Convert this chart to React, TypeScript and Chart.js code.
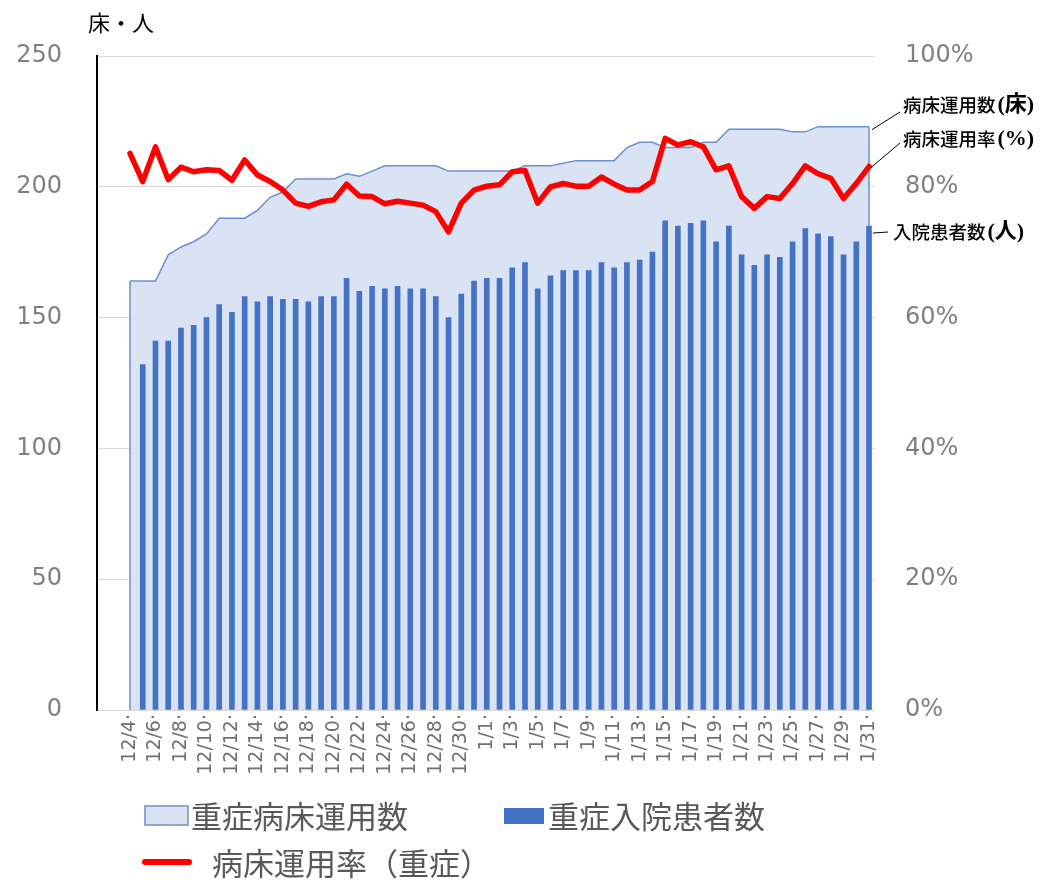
import React, { useEffect, useRef } from 'react';
import { Chart, registerables } from 'chart.js';

Chart.register(...registerables);

// ---- data ----
const categories = [
  '12/4', '12/5', '12/6', '12/7', '12/8', '12/9', '12/10', '12/11', '12/12', '12/13',
  '12/14', '12/15', '12/16', '12/17', '12/18', '12/19', '12/20', '12/21', '12/22', '12/23',
  '12/24', '12/25', '12/26', '12/27', '12/28', '12/29', '12/30', '12/31',
  '1/1', '1/2', '1/3', '1/4', '1/5', '1/6', '1/7', '1/8', '1/9', '1/10',
  '1/11', '1/12', '1/13', '1/14', '1/15', '1/16', '1/17', '1/18', '1/19', '1/20',
  '1/21', '1/22', '1/23', '1/24', '1/25', '1/26', '1/27', '1/28', '1/29', '1/30', '1/31',
];

// 重症病床運用数 (床)
const bedsInUse = [
  164, 164, 164, 174, 177, 179, 182, 188, 188, 188,
  191, 196, 198, 203, 203, 203, 203, 205, 204, 206,
  208, 208, 208, 208, 208, 206, 206, 206,
  206, 206, 206, 208, 208, 208, 209, 210, 210, 210,
  210, 215, 217, 217, 215, 215, 215, 217, 217, 222,
  222, 222, 222, 222, 221, 221, 223, 223, 223, 223, 223,
];

// 重症入院患者数 (人)
const severePatients: (number | null)[] = [
  null, 132, 141, 141, 146, 147, 150, 155, 152, 158,
  156, 158, 157, 157, 156, 158, 158, 165, 160, 162,
  161, 162, 161, 161, 158, 150, 159, 164,
  165, 165, 169, 171, 161, 166, 168, 168, 168, 171,
  169, 171, 172, 175, 187, 185, 186, 187, 179, 185,
  174, 170, 174, 173, 179, 184, 182, 181, 174, 179, 185,
];

// 病床運用率（重症） (%)
const occupancyRate = [
  85.1, 80.8, 86.1, 81.1, 83.0, 82.3, 82.6, 82.5, 81.0, 84.1,
  81.8, 80.8, 79.5, 77.5, 77.0, 77.7, 78.0, 80.4, 78.6, 78.5,
  77.4, 77.8, 77.5, 77.2, 76.2, 73.1, 77.5, 79.5,
  80.1, 80.3, 82.3, 82.5, 77.5, 80.0, 80.5, 80.1, 80.1, 81.5,
  80.4, 79.5, 79.5, 80.8, 87.4, 86.4, 86.9, 86.1, 82.6, 83.2,
  78.5, 76.7, 78.5, 78.2, 80.5, 83.2, 82.0, 81.3, 78.2, 80.5, 83.1,
];

const leftTicks = [0, 50, 100, 150, 200, 250];
const rightTicks = [0, 20, 40, 60, 80, 100];

const leftAxisTitle = '床・人';
const legendLabels = ['重症病床運用数', '重症入院患者数', '病床運用率（重症）'];
const calloutLabels = [
  ['病床運用数', '(床)'],
  ['病床運用率', '(%)'],
  ['入院患者数', '(人)'],
];

// ---- styles ----
const CJK = "'Noto Sans CJK JP', 'Noto Sans', sans-serif";
const NUM = "'DejaVu Sans', sans-serif";
const AREA_FILL = '#dae3f3';
const AREA_LINE = '#6c8fd0';
const BAR_COLOR = '#4472c4';
const RATE_COLOR = '#ff0000';

const AREA_IDX = 2;
const BAR_IDX = 1;
const RATE_IDX = 0;

const areaEdgesPlugin = {
  id: 'areaEdges',
  afterDatasetDraw(chart: any, args: any) {
    if (args.index !== AREA_IDX) return;
    const pts = args.meta.data;
    if (!pts.length) return;
    const y0 = chart.scales.y.getPixelForValue(0);
    const ctx = chart.ctx;
    ctx.save();
    ctx.strokeStyle = AREA_LINE;
    ctx.lineWidth = 1.5;
    [pts[0], pts[pts.length - 1]].forEach((p: any) => {
      ctx.beginPath();
      ctx.moveTo(p.x, p.y);
      ctx.lineTo(p.x, y0);
      ctx.stroke();
    });
    ctx.restore();
  },
};

const decorPlugin = {
  id: 'decor',
  afterDraw(chart: any) {
    const ctx = chart.ctx;
    ctx.save();

    // left axis title
    ctx.fillStyle = '#000';
    ctx.font = `22px ${CJK}`;
    ctx.textBaseline = 'middle';
    ctx.textAlign = 'left';
    ctx.fillText(leftAxisTitle, 88, 23);

    // callouts at the right end
    const areaPts = chart.getDatasetMeta(AREA_IDX).data;
    const ratePts = chart.getDatasetMeta(RATE_IDX).data;
    const barPts = chart.getDatasetMeta(BAR_IDX).data;
    const aLast = areaPts[areaPts.length - 1];
    const rLast = ratePts[ratePts.length - 1];
    const bLast = barPts[barPts.length - 1];

    ctx.strokeStyle = '#000';
    ctx.lineWidth = 1;
    const lead = (x1: number, y1: number, x2: number, y2: number) => {
      ctx.beginPath();
      ctx.moveTo(x1, y1);
      ctx.lineTo(x2, y2);
      ctx.stroke();
    };
    lead(aLast.x + 3, aLast.y + 3, 900, 112);
    lead(rLast.x + 2, rLast.y + 1, 900, 143);
    lead(bLast.x + 4, bLast.y + 7, 888, 232);

    const callout = (parts: string[], x: number, y: number) => {
      ctx.fillStyle = '#000';
      ctx.textBaseline = 'middle';
      ctx.font = `500 18.5px ${CJK}`;
      ctx.fillText(parts[0], x, y);
      const w = ctx.measureText(parts[0]).width;
      ctx.font = `bold 22px 'Liberation Serif', ${CJK}`;
      ctx.fillText(parts[1], x + w + 2, y);
    };
    callout(calloutLabels[0], 903, 105);
    callout(calloutLabels[1], 903, 139);
    callout(calloutLabels[2], 893, 232);

    // legend
    ctx.font = `31px ${CJK}`;
    ctx.textBaseline = 'middle';
    // item 1: area
    ctx.fillStyle = AREA_FILL;
    ctx.fillRect(145, 806, 43, 19);
    ctx.strokeStyle = AREA_LINE;
    ctx.lineWidth = 1.5;
    ctx.strokeRect(145, 806, 43, 19);
    ctx.fillStyle = '#595959';
    ctx.fillText(legendLabels[0], 191, 816);
    // item 2: bars
    ctx.fillStyle = BAR_COLOR;
    ctx.fillRect(504, 808, 40, 16);
    ctx.fillStyle = '#595959';
    ctx.fillText(legendLabels[1], 548, 816);
    // item 3: line
    ctx.strokeStyle = RATE_COLOR;
    ctx.lineWidth = 6;
    ctx.lineCap = 'round';
    ctx.beginPath();
    ctx.moveTo(145, 862);
    ctx.lineTo(189, 862);
    ctx.stroke();
    ctx.fillStyle = '#595959';
    ctx.fillText(legendLabels[2], 212, 863);

    ctx.restore();
  },
};

export default function App() {
  const canvasRef = useRef<HTMLCanvasElement>(null);

  useEffect(() => {
    const canvas = canvasRef.current;
    if (!canvas) return;
    const tickIdx = categories.map((_, i) => i).filter((i) => i % 2 === 0);

    const chart = new Chart(canvas, {
      type: 'bar',
      data: {
        datasets: [
          {
            type: 'line',
            label: legendLabels[2],
            data: occupancyRate.map((v, i) => ({ x: i, y: v })),
            yAxisID: 'yR',
            borderColor: RATE_COLOR,
            backgroundColor: RATE_COLOR,
            borderWidth: 5.5,
            pointRadius: 0,
            tension: 0,
            borderJoinStyle: 'round',
            borderCapStyle: 'round',
            fill: false,
            order: 0,
          },
          {
            type: 'bar',
            label: legendLabels[1],
            data: severePatients.map((v, i) => ({ x: i, y: v })),
            yAxisID: 'y',
            backgroundColor: BAR_COLOR,
            barThickness: 5,
            order: 1,
          },
          {
            type: 'line',
            label: legendLabels[0],
            data: bedsInUse.map((v, i) => ({ x: i, y: v })),
            yAxisID: 'y',
            borderColor: AREA_LINE,
            backgroundColor: AREA_FILL,
            borderWidth: 1.5,
            pointRadius: 0,
            tension: 0,
            fill: 'origin',
            order: 2,
          },
        ],
      } as any,
      options: {
        animation: false,
        responsive: false,
        maintainAspectRatio: false,
        layout: { padding: { top: 56, left: 0, right: 0, bottom: 0 } },
        plugins: {
          legend: { display: false },
          tooltip: { enabled: false },
        },
        scales: {
          x: {
            type: 'linear',
            offset: false,
            min: -2.59,
            max: 58.47,
            grid: { display: false, drawTicks: false },
            border: { display: false },
            afterBuildTicks: (s: any) => {
              s.ticks = tickIdx.map((v) => ({ value: v }));
            },
            afterFit: (s: any) => {
              s.height = 175;
            },
            ticks: {
              autoSkip: false,
              minRotation: 90,
              maxRotation: 90,
              padding: 4,
              color: '#707070',
              font: { family: NUM, size: 19 },
              callback: (v: any) => `${categories[v]}·`,
            },
          },
          y: {
            type: 'linear',
            position: 'left',
            min: 0,
            max: 250,
            afterBuildTicks: (s: any) => {
              s.ticks = leftTicks.map((v) => ({ value: v }));
            },
            afterFit: (s: any) => {
              s.width = 97;
            },
            grid: { color: '#d9d9d9', lineWidth: 1, drawTicks: false },
            border: { display: true, color: '#000', width: 2 },
            ticks: {
              padding: 35,
              color: '#808080',
              font: { family: NUM, size: 24 },
            },
          },
          yR: {
            type: 'linear',
            position: 'right',
            min: 0,
            max: 100,
            afterBuildTicks: (s: any) => {
              s.ticks = rightTicks.map((v) => ({ value: v }));
            },
            afterFit: (s: any) => {
              s.width = 168;
            },
            grid: { display: false, drawTicks: false },
            border: { display: false },
            ticks: {
              padding: 30,
              color: '#808080',
              font: { family: NUM, size: 24 },
              callback: (v: any) => `${v}%`,
            },
          },
        },
      } as any,
      plugins: [areaEdgesPlugin, decorPlugin],
    });

    return () => chart.destroy();
  }, []);

  return (
    <div style={{ position: 'fixed', left: 0, top: 0, width: 1043, height: 885, background: '#fff' }}>
      <canvas ref={canvasRef} width={1043} height={885} style={{ display: 'block' }} />
    </div>
  );
}
